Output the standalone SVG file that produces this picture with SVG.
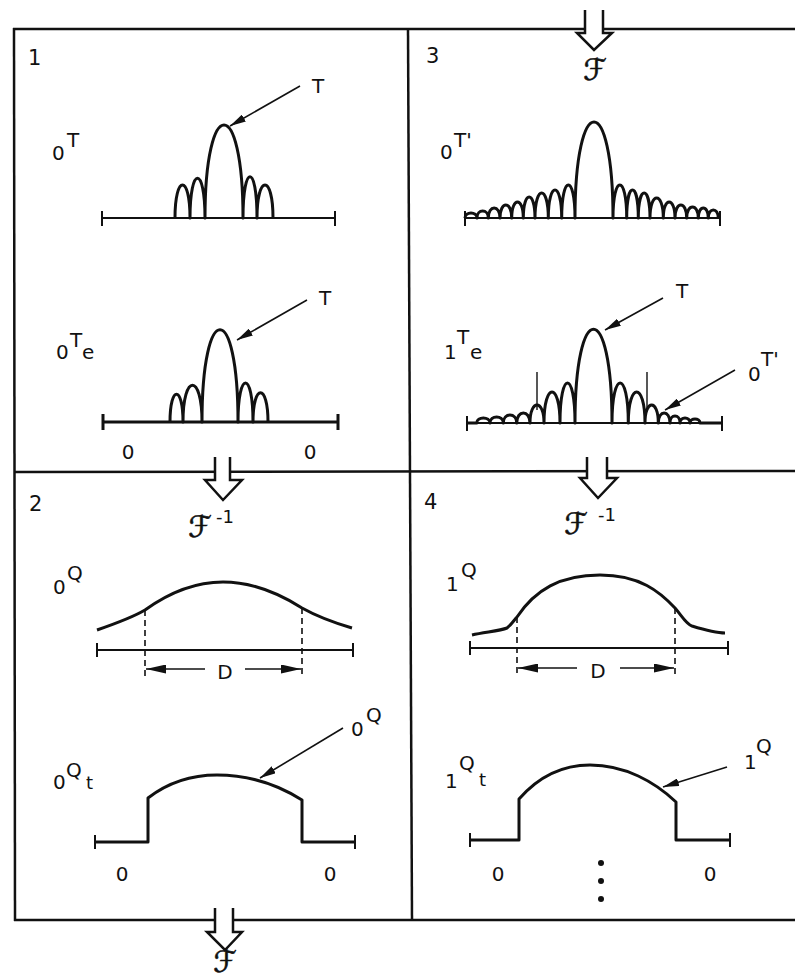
<svg xmlns="http://www.w3.org/2000/svg" width="795" height="979" viewBox="0 0 795 979">
<defs>
<style>
.fr{stroke:#111;stroke-width:2.5;fill:none}
.ax{stroke:#111;stroke-width:2;fill:none}
.cv{stroke:#111;stroke-width:3;fill:none;stroke-linejoin:round}
.ld{stroke:#111;stroke-width:1.6;fill:none}
.ds{stroke:#111;stroke-width:1.6;fill:none;stroke-dasharray:6 4}
.tk{stroke:#111;stroke-width:1.4;fill:none}
.big{stroke:#111;stroke-width:2.5;fill:#fff;stroke-linejoin:miter}
text{font-family:"DejaVu Sans","Liberation Sans",sans-serif;font-size:20px;fill:#111}
.n{font-size:21px}
.sc{font-family:"DejaVu Serif","DejaVu Sans",serif;font-style:italic;font-size:30px;stroke:#111;stroke-width:0.6}
.sm{font-size:18px}
</style>
<marker id="ah" viewBox="0 0 16 8" refX="16" refY="4" markerWidth="16" markerHeight="8" markerUnits="userSpaceOnUse" orient="auto">
<path d="M0,0 L16,4 L0,8 z" fill="#111"/>
</marker>
<marker id="dh" viewBox="0 0 20 9" refX="20" refY="4.5" markerWidth="20" markerHeight="9" markerUnits="userSpaceOnUse" orient="auto">
<path d="M0,0 L20,4.5 L0,9 z" fill="#111"/>
</marker>
</defs>

<g id="frame">
<line class="fr" x1="13" y1="29" x2="795" y2="29"/>
<line class="fr" x1="14" y1="28" x2="15" y2="921"/>
<line class="fr" x1="14" y1="920" x2="795" y2="920"/>
<line class="fr" x1="14" y1="472" x2="795" y2="471"/>
<line class="fr" x1="408" y1="29" x2="412" y2="920"/>
</g>

<g id="connectors">
<path class="big" d="M585,10 L585,33 L577,33 L594,50 L612,33 L603,33 L603,10"/>
<path class="big" d="M215,457 L215,480 L205,480 L223,500 L242,480 L230,480 L230,457"/>
<path class="big" d="M587,457 L587,478 L580,478 L598,498 L617,478 L607,478 L607,457"/>
<path class="big" d="M215,908 L215,932 L207,932 L225,950 L242,932 L233,932 L233,908"/>
<text class="sc" x="595" y="80" text-anchor="middle">ℱ</text>
<text class="sc" x="200" y="537" text-anchor="middle">ℱ</text>
<text class="sm" x="216" y="523">-1</text>
<text class="sc" x="576" y="534" text-anchor="middle">ℱ</text>
<text class="sm" x="598" y="521">-1</text>
<text class="sc" x="225" y="972" text-anchor="middle">ℱ</text>
</g>

<g id="panel1">
<text class="n" x="28" y="65">1</text>
<text x="52" y="160">0</text><text x="67" y="147">T</text>
<path class="ax" d="M102,218 L335,218 M102,211 L102,226 M335,211 L335,226"/>
<path class="cv" d="M175,218 C175,174 190,174 190,218 C190,165 205,165 205,218 C205,94 243,94 243,218 C243,163 257,163 257,218 C257,174 273,174 273,218"/>
<line class="ld" x1="300" y1="86" x2="230" y2="126" marker-end="url(#ah)"/>
<text x="318" y="93" text-anchor="middle">T</text>

<text x="56" y="359">0</text><text x="70" y="347">T</text><text x="82" y="359">e</text>
<path class="cv" d="M103,422 L338,422 M103,414 L103,430 M338,414 L338,430"/>
<path class="cv" d="M170,422 C170,385 183,385 183,422 C183,373 202,373 202,422 C202,299 238,299 238,422 C238,370 253,370 253,422 C253,383 268,383 268,422"/>
<line class="ld" x1="307" y1="300" x2="237" y2="340" marker-end="url(#ah)"/>
<text x="325" y="305" text-anchor="middle">T</text>
<text x="128" y="459" text-anchor="middle">0</text>
<text x="310" y="459" text-anchor="middle">0</text>
</g>

<g id="panel3">
<text class="n" x="426" y="63">3</text>
<text x="440" y="159">0</text><text x="454" y="147">T'</text>
<path class="ax" d="M465,218 L720,218 M465,211 L465,226 M720,211 L720,226"/>
<path class="cv" d="M465,218 C465,211.3 477,211.3 477,218 C477,208.7 488.3,208.7 488.3,218 C488.3,204.7 500,204.7 500,218 C500,200.7 511.7,200.7 511.7,218 C511.7,196.7 523.3,196.7 523.3,218 C523.3,190 535,190 535,218 C535,184.7 548.3,184.7 548.3,218 C548.3,180.7 561.7,180.7 561.7,218 C561.7,174 575,174 575,218 C575,90 613,90 613,218 C613,174 626.7,174 626.7,218 C626.7,180.7 638.3,180.7 638.3,218 C638.3,184.7 650,184.7 650,218 C650,191.3 663.3,191.3 663.3,218 C663.3,196.7 675,196.7 675,218 C675,200.7 686.7,200.7 686.7,218 C686.7,203.3 698.3,203.3 698.3,218 C698.3,204.7 708.3,204.7 708.3,218 C708.3,207.3 718.3,207.3 718.3,218"/>

<text x="444" y="359">1</text><text x="457" y="344">T</text><text x="470" y="359">e</text>
<path class="ax" d="M467,423 L722,423 M467,416 L467,431 M722,416 L722,431"/>
<path class="cv" d="M467,423 L476.7,423 C476.7,416.3 490,416.3 490,423 C490,415 503.3,415 503.3,423 C503.3,412.3 516.7,412.3 516.7,423 C516.7,409.7 530,409.7 530,423 C530,399 544,399 544,423 C544,381.7 560,381.7 560,423 C560,369.7 575,369.7 575,423 C575,298 612,298 612,423 C612,369.7 628.3,369.7 628.3,423 C628.3,381.7 645,381.7 645,423 C645,399 658.3,399 658.3,423 C658.3,409.7 670,409.7 670,423 C670,413.7 680,413.7 680,423 C680,416.3 690,416.3 690,423 C690,417.7 700,417.7 700,423 L722,423"/>
<line class="tk" x1="537" y1="372" x2="537" y2="410"/>
<line class="tk" x1="647" y1="372" x2="647" y2="410"/>
<line class="ld" x1="663" y1="298" x2="605" y2="330" marker-end="url(#ah)"/>
<text x="682" y="298" text-anchor="middle">T</text>
<line class="ld" x1="735" y1="370" x2="665" y2="410" marker-end="url(#ah)"/>
<text x="748" y="381">0</text><text x="761" y="366">T'</text>
</g>

<g id="panel2">
<text class="n" x="29" y="511">2</text>
<text x="53" y="594">0</text><text x="67" y="580">Q</text>
<path class="cv" d="M97,630 C120,622 135,616 145,610 C170,592 195,582 223,582 C252,582 280,594 302,608 C318,617 335,623 352,628"/>
<path class="ax" d="M97,650 L353,650 M97,643 L97,657 M353,643 L353,657"/>
<line class="ds" x1="145" y1="610" x2="145" y2="676"/>
<line class="ds" x1="302" y1="608" x2="302" y2="676"/>
<line class="ld" x1="205" y1="669" x2="146" y2="669" marker-end="url(#dh)"/>
<line class="ld" x1="245" y1="669" x2="301" y2="669" marker-end="url(#dh)"/>
<text x="225" y="679" text-anchor="middle">D</text>

<text x="53" y="789">0</text><text x="66" y="777">Q</text><text x="86" y="789" class="sm">t</text>
<path class="cv" d="M95,842 L148,842 L148,798 C170,781 195,775 217,775 C250,775 280,786 302,800 L302,842 L355,842"/>
<path class="ax" d="M95,835 L95,849 M355,835 L355,849"/>
<line class="ld" x1="343" y1="728" x2="260" y2="778" marker-end="url(#ah)"/>
<text x="351" y="736">0</text><text x="366" y="722">Q</text>
<text x="122" y="881" text-anchor="middle">0</text>
<text x="330" y="881" text-anchor="middle">0</text>
</g>

<g id="panel4">
<text class="n" x="424" y="509">4</text>
<text x="446" y="591">1</text><text x="461" y="577">Q</text>
<path class="cv" d="M472,635 C485,632 500,631 507,628 C512,624 514,620 517,617 C535,590 560,575 600,575 C640,575 660,592 675,608 C682,616 686,624 692,626 C705,630 715,633 725,633"/>
<path class="ax" d="M470,648 L728,648 M470,641 L470,655 M728,641 L728,655"/>
<line class="ds" x1="517" y1="617" x2="517" y2="675"/>
<line class="ds" x1="675" y1="608" x2="675" y2="675"/>
<line class="ld" x1="577" y1="668" x2="518" y2="668" marker-end="url(#dh)"/>
<line class="ld" x1="620" y1="668" x2="674" y2="668" marker-end="url(#dh)"/>
<text x="598" y="678" text-anchor="middle">D</text>

<text x="445" y="788">1</text><text x="459" y="770">Q</text><text x="479" y="786" class="sm">t</text>
<path class="cv" d="M470,840 L519,840 L519,799 C540,775 565,765 590,765 C625,765 655,782 676,802 L676,840 L730,840"/>
<path class="ax" d="M470,833 L470,847 M730,833 L730,847"/>
<line class="ld" x1="727" y1="767" x2="663" y2="787" marker-end="url(#ah)"/>
<text x="744" y="769">1</text><text x="756" y="753">Q</text>
<text x="498" y="881" text-anchor="middle">0</text>
<text x="710" y="881" text-anchor="middle">0</text>
<circle cx="601" cy="863" r="3" fill="#111"/>
<circle cx="601" cy="881" r="3" fill="#111"/>
<circle cx="601" cy="899" r="3" fill="#111"/>
</g>
</svg>
